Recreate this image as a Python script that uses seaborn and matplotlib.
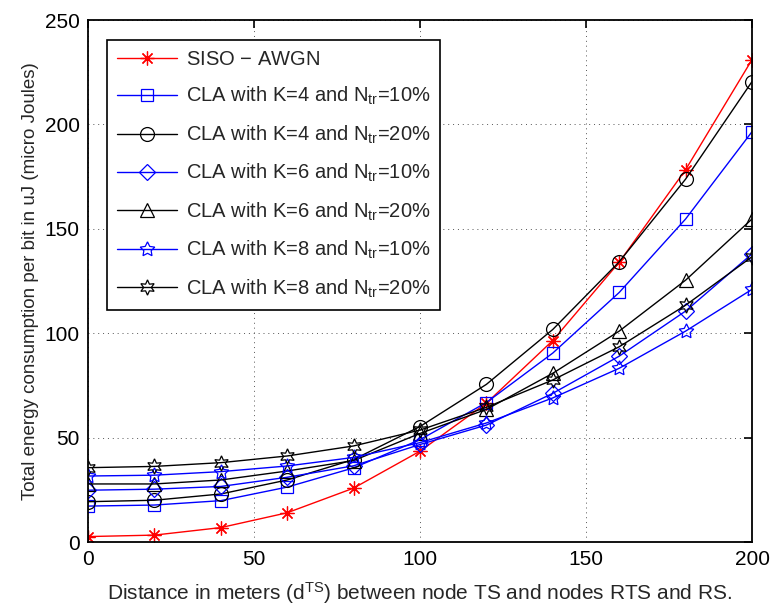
import pandas as pd
import matplotlib
matplotlib.use('Agg')
import matplotlib.pyplot as plt
import seaborn as sns

distance = [0, 20, 40, 60, 80, 100, 120, 140, 160, 180, 200]

siso_awgn = [2.6, 3.3, 6.9, 14.0, 25.8, 43.5, 66.5, 96.5, 134.0, 178.3, 231.0]
k4_10 = [17.2, 17.7, 19.8, 26.3, 35.5, 49.0, 66.8, 90.5, 119.5, 154.7, 196.5]
k4_20 = [19.3, 20.0, 23.0, 29.7, 39.5, 55.3, 75.5, 101.8, 134.2, 173.8, 220.5]
k6_10 = [24.8, 25.3, 26.6, 31.0, 36.5, 46.7, 56.0, 71.2, 89.0, 110.6, 138.0]
k6_20 = [27.8, 27.8, 29.7, 34.0, 39.0, 52.0, 63.5, 80.8, 101.0, 125.4, 154.7]
k8_10 = [31.6, 32.0, 33.7, 36.4, 40.5, 47.6, 57.0, 69.0, 83.2, 101.0, 121.0]
k8_20 = [35.6, 36.2, 38.0, 41.2, 46.0, 53.6, 64.5, 77.6, 93.5, 113.4, 136.6]

labels = [
    'SISO $-$ AWGN',
    'CLA with K=4 and N$_{tr}$=10%',
    'CLA with K=4 and N$_{tr}$=20%',
    'CLA with K=6 and N$_{tr}$=10%',
    'CLA with K=6 and N$_{tr}$=20%',
    'CLA with K=8 and N$_{tr}$=10%',
    'CLA with K=8 and N$_{tr}$=20%',
]
series = [siso_awgn, k4_10, k4_20, k6_10, k6_20, k8_10, k8_20]
colors = ['#ff0000', '#0000ff', '#000000', '#0000ff', '#000000', '#0000ff', '#000000']
markers = [(8, 2, 0), 's', 'o', 'D', '^', (5, 1, 0), (6, 1, 0)]
msizes = [10, 8, 10, 8, 10, 11, 11]

sns.set_style('white')
plt.rcParams['font.family'] = ['Liberation Sans', 'DejaVu Sans']
plt.rcParams['mathtext.default'] = 'regular'
plt.rcParams['font.size'] = 14

fig = plt.figure(figsize=(7.7, 6.09), dpi=100)
ax = fig.add_axes([88 / 770, 1 - 542 / 609, 664 / 770, 522 / 609])

for vals, lab, col, mk, ms in zip(series, labels, colors, markers, msizes):
    df = pd.DataFrame({'x': distance, 'y': vals})
    sns.lineplot(data=df, x='x', y='y', ax=ax, color=col, marker=mk,
                 markersize=ms, markerfacecolor='none', markeredgecolor=col,
                 markeredgewidth=0.9, linewidth=1, label=lab)

ax.set_xlim(0, 200)
ax.set_ylim(0, 250)
ax.set_xticks([0, 50, 100, 150, 200])
ax.set_yticks([0, 50, 100, 150, 200, 250])
ax.grid(True, linestyle=(0, (1, 4)), color='#555555', linewidth=0.7)
ax.tick_params(direction='in', length=6, width=1.2, top=True, right=True,
               labelsize=15, colors='black', pad=6)
for sp in ax.spines.values():
    sp.set_color('black')
    sp.set_linewidth(1.3)

ax.set_xlabel('Distance in meters (d$^{TS}$) between node TS and nodes RTS and RS.',
              fontsize=15, labelpad=8)
ax.set_ylabel('Total energy consumption per bit in uJ (micro Joules)',
              fontsize=13.5, labelpad=4)

leg = ax.legend(loc='upper left', bbox_to_anchor=(19 / 664, 1 - 20 / 522),
                borderaxespad=0, fancybox=False, framealpha=1, edgecolor='black',
                fontsize=14.5, handlelength=3.0, labelspacing=0.8, borderpad=0.5,
                handletextpad=0.4)
leg.get_frame().set_linewidth(1.2)

fig.savefig('out.png', dpi=100)
